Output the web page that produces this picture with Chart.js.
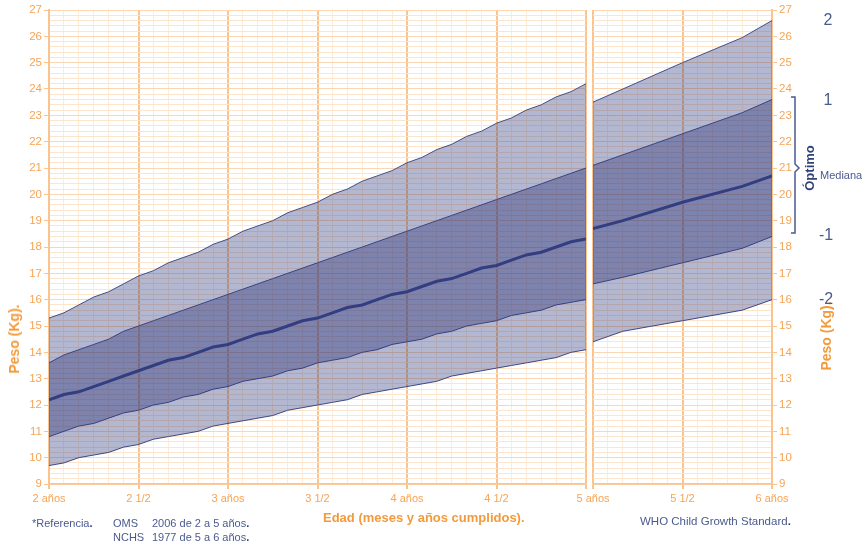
<!DOCTYPE html>
<html>
<head>
<meta charset="utf-8">
<script src="https://cdn.jsdelivr.net/npm/chart.js@4.4.1/dist/chart.umd.min.js"></script>
<style>
  body { margin: 0; background: #fff; }
  #wrap { position: relative; width: 866px; height: 546px; overflow: hidden; font-family: "Liberation Sans", Arial, sans-serif; }
  canvas { position: absolute; top: 0; }
  .t { position: absolute; white-space: nowrap; line-height: 1; }
  .blue { color: #4b5a8f; }
  .orange { color: #f39a3c; font-weight: bold; }
  .rot { transform: translate(-50%, -50%) rotate(-90deg); }
  .num { font-size: 16px; transform: translateX(-50%); }
  .note { font-size: 11px; }
</style>
</head>
<body>
<div id="wrap">
  <canvas id="leftChart" width="600" height="546" style="left:0"></canvas>
  <canvas id="rightChart" width="306" height="546" style="left:560px"></canvas>

  <div class="t orange rot" style="left:14px; top:339px; font-size:14px;">Peso (Kg).</div>
  <div class="t orange rot" style="left:826px; top:336px; font-size:14px;">Peso (Kg).</div>
  <div class="t orange" style="left:323px; top:511px; font-size:13px;">Edad (meses y años cumplidos).</div>

  <div class="t blue note" style="left:32px; top:518px;">*Referencia<b style="color:#2f4179">.</b></div>
  <div class="t blue note" style="left:113px; top:518px;">OMS</div>
  <div class="t blue note" style="left:152px; top:518px;">2006 de 2 a 5 años<b style="color:#2f4179">.</b></div>
  <div class="t blue note" style="left:113px; top:532px;">NCHS</div>
  <div class="t blue note" style="left:152px; top:532px;">1977 de 5 a 6 años<b style="color:#2f4179">.</b></div>
  <div class="t blue" style="left:640px; top:516px; font-size:11.5px;">WHO Child Growth Standard<b style="color:#2f4179">.</b></div>

  <div class="t blue num" style="left:828px; top:12px;">2</div>
  <div class="t blue num" style="left:828px; top:92px;">1</div>
  <div class="t blue num" style="left:826px; top:227px;">-1</div>
  <div class="t blue num" style="left:826px; top:291px;">-2</div>
  <div class="t blue" style="left:820px; top:170px; font-size:11px;">Mediana</div>
  <div class="t rot" style="left:809px; top:168px; font-size:13px; font-weight:bold; color:#2f4179;">Óptimo</div>
  <svg style="position:absolute; left:0; top:0;" width="866" height="546">
    <path d="M791,97 L795,97 L795,164 L799,168 L795,172 L795,233 L791,233" fill="none" stroke="#4b5a8f" stroke-width="1.5"/>
  </svg>
</div>

<script>
// OMS 2006, 2 a 5 años (mes a mes)
const monthsOms = [24, 25, 26, 27, 28, 29, 30, 31, 32, 33, 34, 35, 36, 37, 38, 39, 40, 41, 42,
  43, 44, 45, 46, 47, 48, 49, 50, 51, 52, 53, 54, 55, 56, 57, 58, 59, 60];
const omsPlus2 = [15.3, 15.5, 15.8, 16.1, 16.3, 16.6, 16.9, 17.1, 17.4, 17.6, 17.8, 18.1, 18.3, 18.6, 18.8, 19.0, 19.3, 19.5, 19.7,
  20.0, 20.2, 20.5, 20.7, 20.9, 21.2, 21.4, 21.7, 21.9, 22.2, 22.4, 22.7, 22.9, 23.2, 23.4, 23.7, 23.9, 24.2];
const omsPlus1 = [13.6, 13.9, 14.1, 14.3, 14.5, 14.8, 15.0, 15.2, 15.4, 15.6, 15.8, 16.0, 16.2, 16.4, 16.6, 16.8, 17.0, 17.2, 17.4,
  17.6, 17.8, 18.0, 18.2, 18.4, 18.6, 18.8, 19.0, 19.2, 19.4, 19.6, 19.8, 20.0, 20.2, 20.4, 20.6, 20.8, 21.0];
const omsMedian = [12.2, 12.4, 12.5, 12.7, 12.9, 13.1, 13.3, 13.5, 13.7, 13.8, 14.0, 14.2, 14.3, 14.5, 14.7, 14.8, 15.0, 15.2, 15.3,
  15.5, 15.7, 15.8, 16.0, 16.2, 16.3, 16.5, 16.7, 16.8, 17.0, 17.2, 17.3, 17.5, 17.7, 17.8, 18.0, 18.2, 18.3];
const omsMinus1 = [10.8, 11.0, 11.2, 11.3, 11.5, 11.7, 11.8, 12.0, 12.1, 12.3, 12.4, 12.6, 12.7, 12.9, 13.0, 13.1, 13.3, 13.4, 13.6,
  13.7, 13.8, 14.0, 14.1, 14.3, 14.4, 14.5, 14.7, 14.8, 15.0, 15.1, 15.2, 15.4, 15.5, 15.6, 15.8, 15.9, 16.0];
const omsMinus2 = [9.7, 9.8, 10.0, 10.1, 10.2, 10.4, 10.5, 10.7, 10.8, 10.9, 11.0, 11.2, 11.3, 11.4, 11.5, 11.6, 11.8, 11.9, 12.0,
  12.1, 12.2, 12.4, 12.5, 12.6, 12.7, 12.8, 12.9, 13.1, 13.2, 13.3, 13.4, 13.5, 13.6, 13.7, 13.8, 14.0, 14.1];

// NCHS 1977, 5 a 6 años
const monthsNchs = [60, 62, 66, 70, 72];
const nchsPlus2 = [23.5, 24.0, 25.0, 25.95, 26.6];
const nchsPlus1 = [21.1, 21.5, 22.3, 23.1, 23.6];
const nchsMedian = [18.7, 19.0, 19.7, 20.3, 20.7];
const nchsMinus1 = [16.6, 16.85, 17.4, 17.95, 18.4];
const nchsMinus2 = [14.4, 14.8, 15.2, 15.6, 16.0];

const tickMonths = [24, 30, 36, 42, 48, 54, 60, 66, 72];
const tickNames = ['2 años', '2 1/2', '3 años', '3 1/2', '4 años', '4 1/2', '5 años', '5 1/2', '6 años'];

const tickOrange = '#f6a455';
const gridMinorX = '#feebd8';
const gridMinorY = '#fde5cc';
const gridKg = '#fcd6b0';
const gridMajor = '#fbc48e';
const lineBlue = '#3f4f8b';

Chart.defaults.font.family = '"Liberation Sans", Arial, sans-serif';

const isInt = v => Math.abs(v - Math.round(v)) < 1e-6;
const pts = (months, vals) => months.map((m, i) => ({ x: m, y: vals[i] }));

function bandSets(months, p2, p1, med, m1, m2) {
  const thin = { borderColor: lineBlue, borderWidth: 1, pointRadius: 0, tension: 0 };
  return [
    { ...thin, data: pts(months, p2), fill: 4, backgroundColor: 'rgba(40, 50, 120, 0.35)' },
    { ...thin, data: pts(months, p1), fill: 3, backgroundColor: 'rgba(40, 50, 120, 0.39)' },
    { ...thin, data: pts(months, med), borderWidth: 3, borderColor: '#43528f', fill: false },
    { ...thin, data: pts(months, m1), fill: false },
    { ...thin, data: pts(months, m2), fill: false }
  ];
}

function makeChart(id, datasets, xmin, xmax, side, hideMonths, padding, yWidth) {
  return new Chart(document.getElementById(id), {
    type: 'line',
    data: { datasets },
    options: {
      responsive: false,
      animation: false,
      layout: { padding },
      plugins: { legend: { display: false }, tooltip: { enabled: false } },
      scales: {
        x: {
          type: 'linear', min: xmin, max: xmax,
          ticks: {
            stepSize: 1, autoSkip: false, maxRotation: 0, padding: 3,
            color: tickOrange, font: { size: 11 },
            callback: v => {
              const i = tickMonths.indexOf(v);
              return i < 0 || hideMonths.includes(v) ? '' : tickNames[i];
            }
          },
          grid: {
            color: c => c.tick.value % 6 === 0 ? gridMajor : gridMinorX,
            lineWidth: c => c.tick.value % 6 === 0 ? 2 : 1,
            tickLength: 5,
            tickColor: c => c.tick.value % 6 === 0 ? gridMajor : 'rgba(0,0,0,0)'
          },
          border: { color: gridMajor, width: 1.5 },
          afterFit: s => { s.height = 30; }
        },
        y: {
          position: side, min: 9, max: 27,
          ticks: {
            stepSize: 0.2, autoSkip: false, padding: 2,
            color: tickOrange, font: { size: 11.5 },
            callback: v => isInt(v) ? String(Math.round(v)) : ''
          },
          grid: {
            color: c => isInt(c.tick.value) ? gridKg : gridMinorY,
            tickLength: 5,
            tickColor: c => isInt(c.tick.value) ? gridMajor : 'rgba(0,0,0,0)'
          },
          border: { color: gridMajor, width: 2 },
          afterFit: s => { s.width = yWidth; }
        }
      }
    }
  });
}

makeChart('leftChart',
  bandSets(monthsOms, omsPlus2, omsPlus1, omsMedian, omsMinus1, omsMinus2),
  24, 60, 'left', [60], { top: 10, right: 14, bottom: 32, left: 0 }, 49);

makeChart('rightChart',
  bandSets(monthsNchs, nchsPlus2, nchsPlus1, nchsMedian, nchsMinus1, nchsMinus2),
  60, 72, 'right', [], { top: 10, right: 0, bottom: 32, left: 33 }, 94);
</script>
</body>
</html>
